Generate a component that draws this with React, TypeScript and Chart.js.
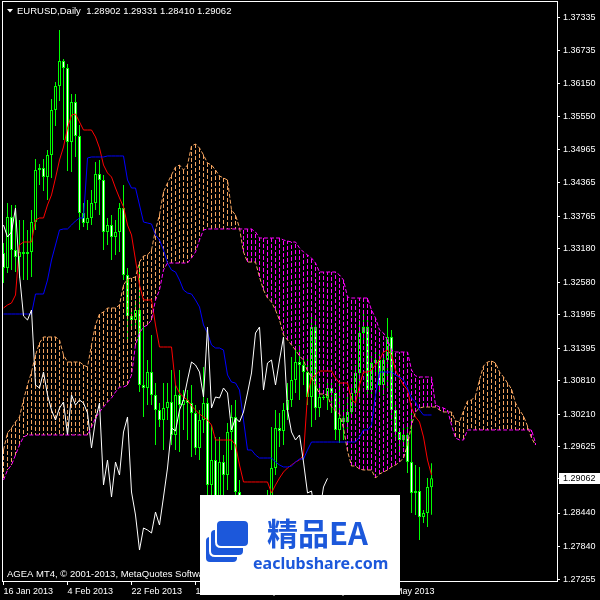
import { useEffect, useRef } from "react";
import { Chart, registerables } from "chart.js";

Chart.register(...registerables);

const FONT = '"Liberation Sans", Arial, sans-serif';

const SYMBOL_TITLE = "EURUSD,Daily";
const LAST_BAR_TEXT = "1.28902 1.29331 1.28410 1.29062";
const COPYRIGHT = "AGEA MT4, \u00a9 2001-2013, MetaQuotes Software Corp.";
const LAST_PRICE = 1.29062;

const DATE_TICK_BARS = [0, 16, 32, 48, 64, 80, 96];
const DATE_LABELS = ["16 Jan 2013", "4 Feb 2013", "22 Feb 2013", "13 Mar 2013", "1 Apr 2013", "19 Apr 2013", "8 May 2013"];

const PRICE_TICKS = [
  1.37335, 1.36735, 1.3615, 1.3555, 1.34965, 1.34365, 1.33765, 1.3318, 1.3258,
  1.31995, 1.31395, 1.3081, 1.3021, 1.29625, 1.2844, 1.2784, 1.27255,
];

const Y_MIN = 1.2722;
const Y_MAX = 1.3761;
const X_MIN = -0.125;
const X_MAX = 138.375;
const CHIKOU_SHIFT = 26;

const OPEN = [
  1.33106, 1.32837, 1.33752, 1.3316, 1.33034, 1.33124, 1.33088, 1.33124, 1.33662, 1.34595,
  1.34631, 1.3447, 1.34865, 1.35672, 1.36103, 1.36551, 1.36426, 1.35098, 1.35816, 1.35205,
  1.33824, 1.33644, 1.33734, 1.34003, 1.34524, 1.34416, 1.33483, 1.33608, 1.33393, 1.33483,
  1.33913, 1.32711, 1.31975, 1.31904, 1.32083, 1.30737, 1.30683, 1.3097, 1.30558, 1.30289,
  1.30109, 1.30324, 1.30432, 1.2984, 1.30558, 1.30378, 1.30468, 1.30414, 1.30235, 1.29607,
  1.30109, 1.30414, 1.28943, 1.29391, 1.28727, 1.29355, 1.29122, 1.29894, 1.30163, 1.28817,
  1.28404, 1.27776, 1.28171, 1.28135, 1.28081, 1.28458, 1.28225, 1.28727, 1.29248, 1.29966,
  1.29912, 1.30289, 1.30468, 1.30827, 1.3115, 1.31096, 1.3097, 1.30522, 1.31778, 1.30324,
  1.30522, 1.30504, 1.30683, 1.30594, 1.2993, 1.30145, 1.30073, 1.30253, 1.30594, 1.30953,
  1.3167, 1.31778, 1.30647, 1.31132, 1.31186, 1.30737, 1.31186, 1.31599, 1.30289, 1.29894,
  1.2975, 1.2984, 1.29355, 1.28799, 1.28835, 1.28368, 1.2844, 1.28902,
];

const HIGH = [
  1.33285, 1.34003, 1.33967, 1.33967, 1.33698, 1.33698, 1.33519, 1.33878, 1.34793, 1.34703,
  1.34793, 1.34954, 1.35869, 1.36175, 1.37108, 1.36587, 1.36498, 1.35959, 1.35959, 1.35403,
  1.34003, 1.34057, 1.34236, 1.34739, 1.34775, 1.34506, 1.33734, 1.33788, 1.33698, 1.34003,
  1.34326, 1.32837, 1.32083, 1.32263, 1.32891, 1.31814, 1.31186, 1.31634, 1.30773, 1.30414,
  1.30773, 1.30773, 1.31006, 1.30737, 1.31006, 1.30647, 1.30647, 1.30737, 1.30378, 1.30289,
  1.3106, 1.30504, 1.30019, 1.29804, 1.29804, 1.29481, 1.30055, 1.30378, 1.30468, 1.29032,
  1.28584, 1.2835, 1.28404, 1.28315, 1.28584, 1.28674, 1.28853, 1.29983, 1.30289, 1.30235,
  1.30414, 1.30773, 1.3124, 1.31365, 1.31455, 1.31222, 1.31222, 1.32029, 1.31993, 1.30773,
  1.30558, 1.30773, 1.30773, 1.30647, 1.30773, 1.30378, 1.30594, 1.30737, 1.31096, 1.31904,
  1.32083, 1.31939, 1.31276, 1.31329, 1.31365, 1.31276, 1.31939, 1.31724, 1.30414, 1.29966,
  1.29983, 1.29983, 1.30235, 1.29302, 1.29266, 1.28494, 1.29068, 1.29331,
];

const LOW = [
  1.32568, 1.32747, 1.32801, 1.32765, 1.32657, 1.32621, 1.32621, 1.32675, 1.33519, 1.34326,
  1.34219, 1.34057, 1.34452, 1.35385, 1.35834, 1.35134, 1.34577, 1.34559, 1.34829, 1.33519,
  1.33572, 1.33519, 1.33608, 1.33878, 1.33788, 1.3316, 1.33249, 1.3298, 1.3307, 1.33124,
  1.32621, 1.31545, 1.31724, 1.31814, 1.30612, 1.30163, 1.30378, 1.30378, 1.2966, 1.29983,
  1.29571, 1.30109, 1.2966, 1.29571, 1.29535, 1.2993, 1.2975, 1.29445, 1.29481, 1.29391,
  1.29876, 1.28674, 1.28674, 1.28584, 1.28494, 1.28763, 1.28853, 1.29571, 1.28494, 1.28135,
  1.27597, 1.27561, 1.27866, 1.27776, 1.27866, 1.28045, 1.28135, 1.28584, 1.29122, 1.29625,
  1.2966, 1.30109, 1.30342, 1.30594, 1.30468, 1.30737, 1.30378, 1.29983, 1.30109, 1.30163,
  1.30468, 1.30289, 1.30235, 1.2975, 1.29696, 1.2975, 1.2993, 1.30199, 1.30342, 1.30468,
  1.31545, 1.30504, 1.30558, 1.3097, 1.30558, 1.30558, 1.30647, 1.30109, 1.2975, 1.29535,
  1.29625, 1.29158, 1.2844, 1.28404, 1.27956, 1.28261, 1.28189, 1.2841,
];

const CLOSE = [
  1.32837, 1.33752, 1.3316, 1.33034, 1.33124, 1.33088, 1.33124, 1.33662, 1.34595, 1.34631,
  1.3447, 1.34865, 1.35672, 1.36103, 1.36551, 1.36426, 1.35098, 1.35816, 1.35205, 1.33824,
  1.33644, 1.33734, 1.34003, 1.34524, 1.34416, 1.33483, 1.33608, 1.33393, 1.33483, 1.33913,
  1.32711, 1.31975, 1.31904, 1.32083, 1.30737, 1.30683, 1.3097, 1.30558, 1.30289, 1.30109,
  1.30324, 1.30432, 1.2984, 1.30558, 1.30378, 1.30468, 1.30414, 1.30235, 1.29607, 1.30109,
  1.30414, 1.28943, 1.29391, 1.28727, 1.29355, 1.29122, 1.29894, 1.30163, 1.28817, 1.28404,
  1.27776, 1.28171, 1.28135, 1.28081, 1.28458, 1.28225, 1.28727, 1.29248, 1.29966, 1.29912,
  1.30289, 1.30468, 1.30827, 1.3115, 1.31096, 1.3097, 1.30522, 1.31778, 1.30324, 1.30522,
  1.30504, 1.30683, 1.30594, 1.2993, 1.30145, 1.30073, 1.30253, 1.30594, 1.30953, 1.3167,
  1.31778, 1.30647, 1.31132, 1.31186, 1.30737, 1.31186, 1.31599, 1.30289, 1.29894, 1.2975,
  1.2984, 1.29355, 1.28799, 1.28835, 1.28368, 1.2844, 1.28907, 1.29062,
];

const TENKAN = [
  1.32119, 1.32173, 1.32209, 1.32352, 1.33249, 1.33303, 1.33303, 1.33303, 1.33698, 1.33734,
  1.33734, 1.33967, 1.34147, 1.34452, 1.34775, 1.35008, 1.35349, 1.35582, 1.356, 1.35457,
  1.35313, 1.35313, 1.35313, 1.35188, 1.3499, 1.34685, 1.34542, 1.3447, 1.34272, 1.34093,
  1.33931, 1.33608, 1.33429, 1.3298, 1.32532, 1.32263, 1.32263, 1.32263, 1.31814, 1.31419,
  1.31419, 1.31419, 1.31419, 1.30737, 1.30594, 1.30522, 1.30468, 1.3036, 1.30289, 1.30217,
  1.30163, 1.30109, 1.30019, 1.2975, 1.2975, 1.2975, 1.2975, 1.2975, 1.2966, 1.29302,
  1.28997, 1.28997, 1.28997, 1.28997, 1.28997, 1.28997, 1.28997, 1.28799, 1.28943, 1.29068,
  1.29176, 1.29248, 1.29302, 1.29355, 1.29391, 1.29481, 1.30558, 1.30863, 1.30917, 1.30988,
  1.30988, 1.30988, 1.30988, 1.30863, 1.30773, 1.30773, 1.30773, 1.30468, 1.30414, 1.30737,
  1.3097, 1.3097, 1.31006, 1.31096, 1.31186, 1.31329, 1.31365, 1.31276, 1.31006, 1.30863,
  1.30737, 1.30647, 1.30324, 1.30163, 1.30073, 1.29804, 1.29391, 1.29122,
];

const KIJUN = [
  1.32011, 1.32011, 1.32011, 1.32011, 1.32011, 1.32011, 1.32011, 1.32011, 1.3237, 1.3237,
  1.3237, 1.32621, 1.3298, 1.33249, 1.33519, 1.33537, 1.33537, 1.33608, 1.3368, 1.33734,
  1.33734, 1.34811, 1.34829, 1.34829, 1.34829, 1.34829, 1.34847, 1.34847, 1.34847, 1.34847,
  1.34847, 1.34416, 1.34272, 1.34272, 1.33967, 1.33662, 1.33644, 1.33626, 1.33429, 1.33339,
  1.3316, 1.32926, 1.32801, 1.32765, 1.32621, 1.32442, 1.32388, 1.3237, 1.32263, 1.32137,
  1.31814, 1.3167, 1.31455, 1.31401, 1.31401, 1.31365, 1.30917, 1.30791, 1.30773, 1.30647,
  1.30109, 1.29571, 1.29571, 1.29481, 1.29427, 1.29427, 1.29427, 1.29427, 1.29355, 1.29302,
  1.29266, 1.29266, 1.29284, 1.29355, 1.29409, 1.29409, 1.29571, 1.29714, 1.29714, 1.29714,
  1.29714, 1.29714, 1.29714, 1.29714, 1.29714, 1.29714, 1.29714, 1.29714, 1.29714, 1.29804,
  1.2993, 1.2993, 1.30019, 1.30558, 1.3097, 1.3097, 1.3097, 1.3097, 1.30917, 1.30881,
  1.30827, 1.30683, 1.30504, 1.30432, 1.30289, 1.30199, 1.30199, 1.30199,
];

const SPAN_A = [
  1.29571, 1.29876, 1.29966, 1.30073, 1.30163, 1.30468, 1.30737, 1.3097, 1.31276, 1.31491,
  1.31599, 1.31599, 1.31599, 1.31599, 1.31545, 1.31276, 1.3115, 1.3115, 1.3115, 1.3115,
  1.31096, 1.3106, 1.31455, 1.31814, 1.32011, 1.32047, 1.32119, 1.32119, 1.32119, 1.32173,
  1.32532, 1.32639, 1.32657, 1.32675, 1.32944, 1.33052, 1.3307, 1.3316, 1.33519, 1.33788,
  1.34201, 1.34362, 1.34506, 1.34649, 1.34685, 1.34595, 1.34685, 1.35026, 1.35062, 1.3499,
  1.34865, 1.34721, 1.34685, 1.34595, 1.34488, 1.34452, 1.34416, 1.33878, 1.33788, 1.33555,
  1.33124, 1.32944, 1.32944, 1.32944, 1.32675, 1.32442, 1.32298, 1.32227, 1.32083, 1.31904,
  1.31634, 1.31545, 1.31455, 1.31365, 1.31258, 1.31186, 1.30988, 1.30881, 1.30737, 1.30576,
  1.30576, 1.30558, 1.30342, 1.30271, 1.30217, 1.29966, 1.29553, 1.29284, 1.29284, 1.2923,
  1.29212, 1.29212, 1.29212, 1.29068, 1.2914, 1.29176, 1.29212, 1.29266, 1.29302, 1.29355,
  1.29427, 1.2966, 1.30019, 1.30253, 1.30324, 1.30342, 1.30342, 1.30342, 1.30342, 1.30289,
  1.30253, 1.30253, 1.30253, 1.30091, 1.30073, 1.30271, 1.3045, 1.30468, 1.3054, 1.30827,
  1.31078, 1.3115, 1.31168, 1.31132, 1.3097, 1.30881, 1.30773, 1.30665, 1.30414, 1.30289,
  1.30181, 1.30001, 1.29786, 1.2966,
];

const SPAN_B = [
  1.29032, 1.29212, 1.29302, 1.29481, 1.2966, 1.29804, 1.2984, 1.2984, 1.2984, 1.2984,
  1.2984, 1.2984, 1.2984, 1.2984, 1.2984, 1.2984, 1.2984, 1.2984, 1.2984, 1.2984,
  1.2984, 1.2984, 1.29983, 1.30145, 1.30253, 1.30342, 1.30432, 1.30504, 1.30612, 1.30701,
  1.30701, 1.30737, 1.30917, 1.31455, 1.3167, 1.31778, 1.31814, 1.31904, 1.32263, 1.32442,
  1.32801, 1.32926, 1.32926, 1.32926, 1.32926, 1.32926, 1.32926, 1.33016, 1.33124, 1.33339,
  1.33519, 1.33537, 1.33537, 1.33537, 1.33537, 1.33537, 1.33537, 1.33537, 1.33537, 1.33537,
  1.33537, 1.33537, 1.33537, 1.33483, 1.33375, 1.33375, 1.33375, 1.33375, 1.33375, 1.33375,
  1.33339, 1.33321, 1.33303, 1.33303, 1.33196, 1.33124, 1.3307, 1.33016, 1.32926, 1.32765,
  1.32765, 1.32765, 1.32765, 1.32765, 1.32711, 1.32621, 1.32316, 1.32298, 1.32298, 1.32298,
  1.32298, 1.32298, 1.32083, 1.31939, 1.31724, 1.3167, 1.31545, 1.31365, 1.31329, 1.31329,
  1.31329, 1.31329, 1.31006, 1.30899, 1.30881, 1.30881, 1.30881, 1.30881, 1.30378, 1.30342,
  1.30324, 1.30289, 1.30019, 1.29786, 1.2975, 1.2975, 1.2993, 1.2993, 1.2993, 1.2993,
  1.2993, 1.2993, 1.2993, 1.2993, 1.2993, 1.2993, 1.2993, 1.2993, 1.2993, 1.2993,
  1.2993, 1.2993, 1.2993, 1.29696,
];

const LIME = "#00ff00";
const SANDY = "#f4a460";
const MAGENTA = "#ff00ff";
const WM_BLUE = "#1c58db";

function roundedRect(ctx: CanvasRenderingContext2D, x: number, y: number, w: number, h: number, r: number) {
  ctx.beginPath();
  ctx.moveTo(x + r, y);
  ctx.lineTo(x + w - r, y);
  ctx.quadraticCurveTo(x + w, y, x + w, y + r);
  ctx.lineTo(x + w, y + h - r);
  ctx.quadraticCurveTo(x + w, y + h, x + w - r, y + h);
  ctx.lineTo(x + r, y + h);
  ctx.quadraticCurveTo(x, y + h, x, y + h - r);
  ctx.lineTo(x, y + r);
  ctx.quadraticCurveTo(x, y, x + r, y);
  ctx.closePath();
}

const mt4Plugin = {
  id: "mt4Decor",
  beforeDraw(chart: any) {
    const { ctx, width, height } = chart;
    ctx.save();
    ctx.fillStyle = "#000";
    ctx.fillRect(0, 0, width, height);
    ctx.restore();
  },
  afterDraw(chart: any) {
    const { ctx, chartArea } = chart;
    const yScale = chart.scales.y;
    ctx.save();
    // frame
    ctx.strokeStyle = "#fff";
    ctx.lineWidth = 1;
    ctx.strokeRect(
      chartArea.left - 0.5,
      chartArea.top - 0.5,
      chartArea.right - chartArea.left + 1,
      chartArea.bottom - chartArea.top + 1
    );
    // title
    ctx.fillStyle = "#fff";
    ctx.beginPath();
    ctx.moveTo(7, 9);
    ctx.lineTo(13, 9);
    ctx.lineTo(10, 12.5);
    ctx.closePath();
    ctx.fill();
    ctx.font = `9.5px ${FONT}`;
    ctx.textBaseline = "middle";
    ctx.textAlign = "left";
    ctx.fillText(`${SYMBOL_TITLE}  ${LAST_BAR_TEXT}`, 17, 11);
    ctx.fillText(COPYRIGHT, 7, 574);
    // last price label
    const py = Math.round(yScale.getPixelForValue(LAST_PRICE));
    ctx.fillStyle = "#fff";
    ctx.fillRect(559, py - 5, 41, 11);
    ctx.fillRect(557, py, 3, 1);
    ctx.fillStyle = "#000";
    ctx.font = `9px ${FONT}`;
    ctx.fillText(LAST_PRICE.toFixed(5), 563, py + 0.5);
    // watermark
    ctx.fillStyle = "#fff";
    ctx.fillRect(200, 495, 200, 100);
    ctx.lineWidth = 2;
    ctx.strokeStyle = "#fff";
    ctx.fillStyle = WM_BLUE;
    roundedRect(ctx, 205, 536, 33, 27, 5);
    ctx.fill();
    ctx.stroke();
    roundedRect(ctx, 210, 529, 34, 27, 5);
    ctx.fill();
    ctx.stroke();
    roundedRect(ctx, 216, 520, 33, 27, 5);
    ctx.fill();
    ctx.stroke();
    ctx.fillStyle = WM_BLUE;
    ctx.textBaseline = "alphabetic";
    ctx.font = `bold 31px "Noto Sans CJK SC", sans-serif`;
    ctx.fillText("\u7cbe\u54c1EA", 267, 545);
    ctx.font = `bold 16px "Noto Sans", sans-serif`;
    ctx.fillText("eaclubshare.com", 253, 569);
    ctx.restore();
  },
};

export default function App() {
  const canvasRef = useRef<HTMLCanvasElement | null>(null);

  useEffect(() => {
    const canvas = canvasRef.current;
    if (!canvas) return;

    const wicks = CLOSE.map((_, i) => ({ x: i, y: [LOW[i], HIGH[i]] }));
    const bodies = CLOSE.map((c, i) => ({ x: i, y: [OPEN[i], c] }));
    const bodyFill = CLOSE.map((c, i) => (c >= OPEN[i] ? "#000000" : "#ffffff"));

    const hatchSandy: any[] = [];
    const hatchMagenta: any[] = [];
    SPAN_A.forEach((a, i) => {
      const b = SPAN_B[i];
      const target = a >= b ? hatchSandy : hatchMagenta;
      target.push({ x: i, y: a }, { x: i, y: b }, { x: i, y: null });
    });

    const lineOf = (arr: number[], offset = 0) => arr.map((v, i) => ({ x: i + offset, y: v }));
    const chikou = CLOSE.slice(CHIKOU_SHIFT).map((v, j) => ({ x: j, y: v }));

    const lineBase = {
      type: "line" as const,
      pointRadius: 0,
      borderWidth: 1,
      tension: 0,
      fill: false,
    };

    const chart = new Chart(canvas, {
      type: "line",
      data: {
        datasets: [
          {
            type: "bar",
            data: wicks as any,
            backgroundColor: LIME,
            borderWidth: 0,
            barThickness: 1,
            grouped: false,
            inflateAmount: 0,
            order: 10,
          } as any,
          {
            type: "bar",
            data: bodies as any,
            backgroundColor: bodyFill,
            borderColor: LIME,
            borderWidth: 1,
            borderSkipped: false,
            barThickness: 3,
            minBarLength: 1,
            grouped: false,
            inflateAmount: 0,
            order: 9,
          } as any,
          { ...lineBase, data: hatchSandy, borderColor: SANDY, borderDash: [4, 2], spanGaps: false, order: 8 },
          { ...lineBase, data: hatchMagenta, borderColor: MAGENTA, borderDash: [4, 2], spanGaps: false, order: 7 },
          { ...lineBase, data: lineOf(TENKAN), borderColor: "#ff0000", order: 6 },
          { ...lineBase, data: lineOf(KIJUN), borderColor: "#0000ff", order: 5 },
          { ...lineBase, data: chikou, borderColor: "#ffffff", order: 4 },
          { ...lineBase, data: lineOf(SPAN_A), borderColor: SANDY, borderDash: [4, 2], order: 3 },
          { ...lineBase, data: lineOf(SPAN_B), borderColor: MAGENTA, borderDash: [4, 2], order: 2 },
        ] as any,
      },
      options: {
        animation: false,
        responsive: false,
        devicePixelRatio: 1,
        events: [],
        layout: { padding: { left: 3, top: 2, right: 0, bottom: 0 } },
        plugins: { legend: { display: false }, tooltip: { enabled: false } },
        scales: {
          x: {
            type: "linear",
            min: X_MIN,
            max: X_MAX,
            offset: false,
            bounds: "data",
            afterBuildTicks: (s: any) => {
              s.ticks = DATE_TICK_BARS.map((v) => ({ value: v }));
            },
            afterFit: (s: any) => {
              s.height = 19;
              s.paddingLeft = 0;
              s.paddingRight = 0;
            },
            grid: {
              display: true,
              drawOnChartArea: false,
              drawTicks: true,
              tickLength: 4,
              tickColor: "#ffffff",
              color: "#ffffff",
              offset: false,
            },
            border: { display: false },
            ticks: {
              color: "#ffffff",
              font: { family: FONT, size: 9 },
              autoSkip: false,
              maxRotation: 0,
              minRotation: 0,
              align: "start",
              padding: 1,
              callback: (v: any) => {
                const k = DATE_TICK_BARS.indexOf(Number(v));
                return k >= 0 ? DATE_LABELS[k] : "";
              },
            },
          },
          y: {
            type: "linear",
            position: "right",
            min: Y_MIN,
            max: Y_MAX,
            bounds: "data",
            afterBuildTicks: (s: any) => {
              s.ticks = PRICE_TICKS.map((v) => ({ value: v }));
            },
            afterFit: (s: any) => {
              s.width = 43;
              s.paddingTop = 0;
              s.paddingBottom = 0;
            },
            grid: {
              display: true,
              drawOnChartArea: false,
              drawTicks: true,
              tickLength: 3,
              tickColor: "#ffffff",
              color: "#ffffff",
            },
            border: { display: false },
            ticks: {
              color: "#ffffff",
              font: { family: FONT, size: 9 },
              autoSkip: false,
              padding: 3,
              callback: (v: any) => Number(v).toFixed(5),
            },
          },
        },
      } as any,
      plugins: [mt4Plugin],
    });

    return () => {
      chart.destroy();
    };
  }, []);

  return (
    <div
      style={{
        position: "fixed",
        left: 0,
        top: 0,
        width: 600,
        height: 600,
        background: "#000",
      }}
    >
      <canvas ref={canvasRef} width={600} height={600} style={{ display: "block", width: 600, height: 600 }} />
    </div>
  );
}
